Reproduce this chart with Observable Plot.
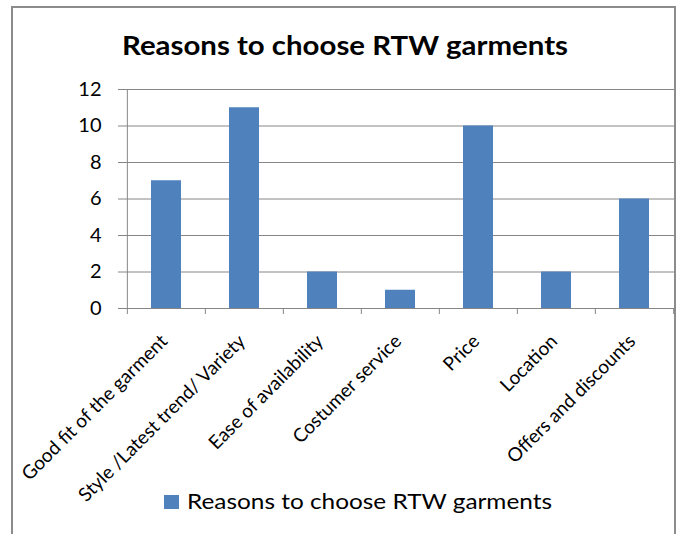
<!DOCTYPE html>
<html>
<head>
<meta charset="utf-8">
<script src="https://cdn.jsdelivr.net/npm/d3@7"></script>
<script src="https://cdn.jsdelivr.net/npm/@observablehq/plot@0.6"></script>
<style>
  html, body { margin: 0; padding: 0; background: #fff; }
  #wrap { position: relative; width: 681px; height: 534px; overflow: hidden; font-family: Lato, "Open Sans", sans-serif; }
  #border { position: absolute; left: 11px; top: 6px; width: 665px; height: 560px; border: 2px solid #8c8c8c; box-sizing: border-box; }
  #chart { position: absolute; left: 0; top: 0; }
  #overlay { position: absolute; left: 0; top: 0; pointer-events: none; }
</style>
</head>
<body>
<div id="wrap">
  <div id="border"></div>
  <div id="chart"></div>
  <svg id="overlay" width="681" height="534"></svg>
</div>
<script>
const title = "Reasons to choose RTW garments";
const seriesName = "Reasons to choose RTW garments";
const categories = [
  "Good fit of the garment",
  "Style /Latest trend/ Variety",
  "Ease of availability",
  "Costumer service",
  "Price",
  "Location",
  "Offers and discounts"
];
const values = [7, 11, 2, 1, 10, 2, 6];
const yTicks = [0, 2, 4, 6, 8, 10, 12];

const data = categories.map((c, i) => ({reason: c, count: values[i]}));

const W = 681, H = 534, mL = 126, mR = 7, mT = 89, mB = 226;
const step = (W - mL - mR) / categories.length;
const barColor = "#4F81BD";
const gray = "#868686";

const chart = Plot.plot({
  width: W, height: H,
  marginLeft: mL, marginRight: mR, marginTop: mT, marginBottom: mB,
  style: {fontFamily: "Lato, 'Open Sans', sans-serif", background: "transparent", color: "black"},
  x: {domain: categories, paddingInner: 0.615, paddingOuter: 0.3075, axis: null},
  y: {domain: [0, 12], axis: null},
  marks: [
    Plot.gridY(yTicks.filter(t => t > 0), {stroke: gray, strokeOpacity: 1, strokeWidth: 1}),
    Plot.axisY(yTicks, {tickSize: 8, tickPadding: 17, stroke: gray, fill: "black", fontSize: 20, label: null}),
    Plot.barY(data, {x: "reason", y: "count", fill: barColor}),
    Plot.ruleY([0], {stroke: gray}),
    Plot.ruleX([categories[0]], {x: d => d, dx: -step / 2, stroke: gray}),
    Plot.ruleX(categories, {x: d => d, dx: -step / 2, y1: 0, y2: 0, insetBottom: -6, stroke: gray}),
    Plot.ruleX([categories[categories.length - 1]], {x: d => d, dx: step / 2, y1: 0, y2: 0, insetBottom: -6, stroke: gray}),
    Plot.text(categories, {x: d => d, frameAnchor: "bottom", text: d => d, rotate: -45, textAnchor: "end", dx: 2, dy: 34, fontSize: 19, fill: "black"})
  ]
});
document.getElementById("chart").appendChild(chart);

// Title and legend
const ov = d3.select("#overlay");
ov.append("text")
  .attr("x", 345).attr("y", 55)
  .attr("text-anchor", "middle")
  .attr("font-family", "Lato, 'Open Sans', sans-serif")
  .attr("font-weight", "bold")
  .attr("font-size", 26)
  .attr("textLength", 446)
  .attr("lengthAdjust", "spacingAndGlyphs")
  .text(title);
ov.append("rect")
  .attr("x", 164).attr("y", 495).attr("width", 15).attr("height", 14)
  .attr("fill", barColor);
ov.append("text")
  .attr("x", 187).attr("y", 509)
  .attr("font-family", "Lato, 'Open Sans', sans-serif")
  .attr("font-size", 22)
  .attr("textLength", 365)
  .attr("lengthAdjust", "spacingAndGlyphs")
  .text(seriesName);
</script>
</body>
</html>
